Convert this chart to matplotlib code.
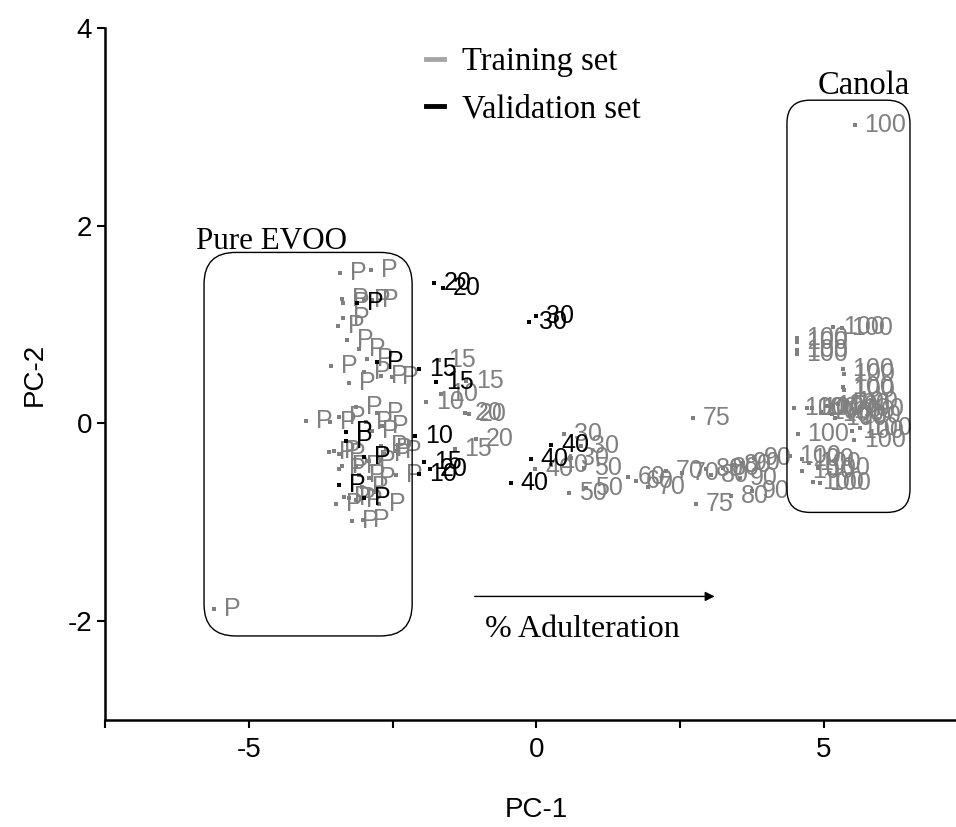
import numpy as np
import matplotlib
matplotlib.use("Agg")
import matplotlib.pyplot as plt
from matplotlib.lines import Line2D
from matplotlib.patches import FancyBboxPatch

# Training set (gray): PC-1, PC-2, label
train_x = [-3.41, -2.87, -3.38, -3.36, -2.86, -3.00, -3.36, -3.45, -3.29, -3.08, -3.57, -2.94,
           -3.26, -3.00, -2.70, -2.51, -4.00, -3.59, -3.43, -3.14, -2.77, -2.96, -2.86, -2.68,
           -2.65, -2.61, -3.61, -3.52, -3.43, -3.38, -3.43, -3.08, -2.44, -3.03, -2.91, -3.34,
           -3.48, -3.26, -3.14, -2.74, -3.20, -3.01, -2.91, -3.14, -2.70, -2.46, -5.61,
           -1.70, -1.22, -1.42, -1.92, -1.66, -1.24, -1.17, -1.05,
           0.48, 0.78, 0.60, -0.02, 0.25, 0.83, 0.57, 0.86,
           1.60, 1.73, 1.94, 2.25, 2.54, 2.72, 2.77,
           2.96, 3.04, 3.24, 3.44, 3.39, 3.59, 3.79, 3.54, 3.75,
           5.54, 5.16, 5.31, 4.53, 4.53, 4.53, 4.53, 5.33, 5.35, 5.33, 5.35, 4.49, 4.70,
           4.80, 4.95, 5.05, 5.15, 5.25, 5.35, 5.45, 5.40, 5.50, 5.20,
           4.55, 5.49, 5.63, 5.53, 4.41, 4.63, 4.63, 4.81, 4.93, 4.75, 4.90]
train_y = [1.52, 1.55, 1.26, 1.22, 1.25, 1.25, 1.07, 0.99, 0.84, 0.75, 0.58, 0.65,
           0.41, 0.52, 0.48, 0.47, 0.02, 0.01, 0.07, 0.17, 0.11, 0.01, -0.08, -0.03,
           -0.31, -0.26, -0.29, -0.28, -0.31, -0.43, -0.46, -0.52, -0.52, -0.64, -0.55, -0.74,
           -0.82, -0.75, -0.77, -0.82, -0.99, -0.98, -0.38, -0.43, -0.23, -0.28, -1.88,
           0.64, 0.43, -0.26, 0.22, 0.30, 0.11, 0.10, -0.16,
           -0.11, -0.23, -0.35, -0.46, -0.42, -0.45, -0.70, -0.65,
           -0.54, -0.58, -0.64, -0.48, -0.50, 0.06, -0.81,
           -0.46, -0.52, -0.45, -0.42, -0.73, -0.40, -0.35, -0.55, -0.68,
           3.02, 0.98, 0.97, 0.86, 0.82, 0.74, 0.70, 0.55, 0.50, 0.37, 0.34, 0.16, 0.16,
           0.16, 0.12, 0.18, 0.10, 0.20, 0.13, 0.08, 0.22, 0.15, 0.05,
           -0.11, -0.08, -0.05, -0.17, -0.33, -0.36, -0.48, -0.59, -0.60, -0.40, -0.45]
train_lab = ["P"] * 47 + \
            ["15", "15", "15", "10", "10", "20", "20", "20",
             "30", "30", "30", "40", "40", "50", "50", "50",
             "60", "60", "70", "70", "70", "75", "75",
             "80", "80", "80", "80", "80", "90", "90", "90", "90"] + \
            ["100"] * 34

# Validation set (black)
val_x = [-1.78, -1.62, -0.12, 0.00, -2.04, -1.74, -1.95, -2.11, -2.04, -1.85,
         -0.44, -0.09, 0.26, -3.12, -2.77, -3.31, -3.31, -3.00, -3.43, -3.00]
val_y = [1.42, 1.37, 1.03, 1.09, 0.55, 0.42, -0.39, -0.13, -0.51, -0.46,
         -0.60, -0.36, -0.22, 1.22, 0.62, -0.09, -0.18, -0.34, -0.62, -0.75]
val_lab = ["20", "20", "30", "30", "15", "15", "15", "10", "10", "20",
           "40", "40", "40", "P", "P", "P", "P", "P", "P", "P"]

gray = "#808080"
serif = "Liberation Serif"
sans = "Liberation Sans"
plt.rcParams["axes.unicode_minus"] = False

fig = plt.figure(figsize=(9.56, 8.27), dpi=100)
ax = fig.add_axes([0.110, 0.1294, 0.902, 0.8367])

# точки и подписи
for xs, ys, labs, col, z in [(train_x, train_y, train_lab, gray, 2),
                             (val_x, val_y, val_lab, "black", 3)]:
    ax.scatter(xs, ys, marker="s", s=10, color=col, linewidths=0, zorder=z)
    for x, y, t in zip(xs, ys, labs):
        ax.annotate(t, (x, y), xytext=(7, 0), textcoords="offset points",
                    ha="left", va="center", fontsize=18, color=col,
                    family=sans, zorder=z)

# рамки групп
aspect = 57.5 / 98.9
box1 = FancyBboxPatch((-5.78, -2.15), 3.62, 3.88,
                      boxstyle="round,pad=0,rounding_size=0.55",
                      mutation_aspect=aspect, fill=False, lw=1.0, ec="black", zorder=4)
box2 = FancyBboxPatch((4.36, -0.90), 2.14, 4.17,
                      boxstyle="round,pad=0,rounding_size=0.4",
                      mutation_aspect=aspect, fill=False, lw=1.0, ec="black", zorder=4)
ax.add_patch(box1)
ax.add_patch(box2)
ax.text(-4.6, 1.84, "Pure EVOO", family=serif, fontsize=22.3, ha="center", va="center")
ax.text(6.5, 3.42, "Canola", family=serif, fontsize=23.5, ha="right", va="center")

# стрелка
ax.annotate("", xy=(3.15, -1.75), xytext=(-1.12, -1.75),
            arrowprops=dict(arrowstyle="-|>", color="black", lw=1.0, mutation_scale=14))
ax.text(0.8, -2.08, "% Adulteration", family=serif, fontsize=23, ha="center", va="center")

# легенда
handles = [Line2D([], [], color="#a6a6a6", lw=3.5),
           Line2D([], [], color="black", lw=3.5)]
leg = ax.legend(handles, ["Training set", "Validation set"], loc="upper left",
                bbox_to_anchor=(0.415, 0.979), bbox_transform=fig.transFigure,
                frameon=False, handlelength=0.55, handletextpad=0.55,
                labelspacing=0.5, prop={"family": serif, "size": 23.5})

ax.set_xlim(-7.5, 7.5)
ax.set_ylim(-3, 4)
ax.set_xticks([-5, 0, 5])
ax.set_xticks([-7.5, -2.5, 2.5], minor=True)
ax.set_yticks([-2, 0, 2, 4])
for lab in ax.get_xticklabels() + ax.get_yticklabels():
    lab.set_family(sans)
ax.tick_params(which="both", direction="out", length=6, width=1.5, labelsize=20)
ax.tick_params(axis="x", pad=6)
for s in ["top", "right"]:
    ax.spines[s].set_visible(False)
for s in ["left", "bottom"]:
    ax.spines[s].set_linewidth(1.8)

ax.set_xlabel("PC-1", family=sans, fontsize=20, labelpad=25)
ax.set_ylabel("PC-2", family=sans, fontsize=20, labelpad=14)

fig.savefig("out.png", dpi=100)
